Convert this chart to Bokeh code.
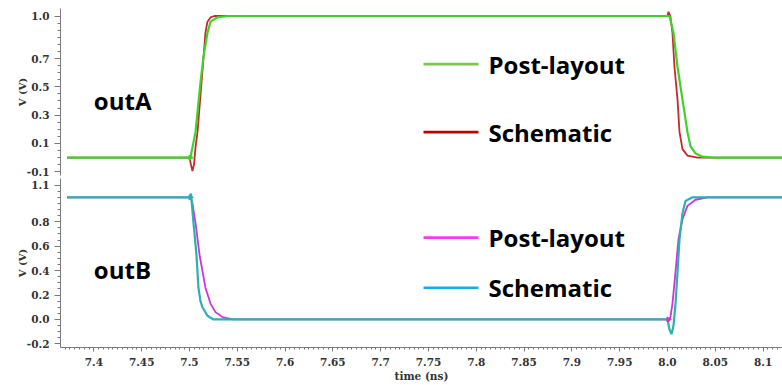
from bokeh.plotting import figure
from bokeh.layouts import column
from bokeh.models import FixedTicker, Range1d
from bokeh.core.properties import value
from bokeh.embed import file_html
from bokeh.resources import INLINE

# ---- waveform samples (time in ns, voltage in V) ----
# outA, post-layout
a_post_t = [7.372, 7.500, 7.501, 7.5063, 7.5115, 7.5146, 7.5188, 7.522, 7.529, 7.540,
            8.000, 8.0021, 8.0063, 8.0105, 8.0157, 8.0209, 8.0241, 8.0293, 8.0366, 8.047, 8.120]
a_post_v = [0.0, 0.0, 0.0, 0.18, 0.53, 0.71, 0.88, 0.96, 0.99, 1.0,
            1.0, 1.0, 0.88, 0.64, 0.41, 0.18, 0.08, 0.03, 0.007, 0.0, 0.0]

# outA, schematic
a_sch_t = [7.372, 7.500, 7.5016, 7.5031, 7.5047, 7.5063, 7.5084, 7.5126, 7.5167, 7.5188, 7.522, 7.526,
           8.000, 8.001, 8.003, 8.0052, 8.0073, 8.0105, 8.0126, 8.0157, 8.0209, 8.0314, 8.120]
a_sch_v = [0.0, 0.0, -0.05, -0.095, -0.05, 0.07, 0.18, 0.53, 0.88, 0.96, 0.99, 1.0,
           1.0, 1.03, 1.0, 0.88, 0.64, 0.41, 0.18, 0.06, 0.014, 0.0, 0.0]

# outB, post-layout
b_post_t = [7.372, 7.501, 7.5031, 7.5063, 7.5105, 7.5167, 7.522, 7.5272, 7.5345, 7.545,
            8.000, 8.001, 8.0031, 8.0052, 8.0084, 8.0115, 8.0157, 8.0209, 8.0293, 8.0418, 8.120]
b_post_v = [1.0, 1.0, 0.95, 0.79, 0.53, 0.26, 0.13, 0.06, 0.02, 0.0,
            0.0, -0.02, 0.02, 0.13, 0.39, 0.66, 0.82, 0.93, 0.98, 1.0, 1.0]

# outB, schematic
b_sch_t = [7.372, 7.500, 7.5016, 7.5042, 7.5073, 7.5094, 7.5115, 7.5136, 7.5188, 7.5251,
           8.000, 8.002, 8.0042, 8.0063, 8.0084, 8.0105, 8.0126, 8.0157, 8.0188, 8.0262, 8.120]
b_sch_v = [1.0, 1.0, 1.03, 0.79, 0.53, 0.26, 0.15, 0.10, 0.03, 0.0,
           0.0, -0.08, -0.12, -0.05, 0.13, 0.39, 0.66, 0.87, 0.97, 1.0, 1.0]

# ---- axis ticks ----
x_ticks = [7.4, 7.45, 7.5, 7.55, 7.6, 7.65, 7.7, 7.75, 7.8, 7.85, 7.9, 7.95, 8.0, 8.05, 8.1]
x_tick_labels = ["7.4", "7.45", "7.5", "7.55", "7.6", "7.65", "7.7", "7.75", "7.8",
                 "7.85", "7.9", "7.95", "8.0", "8.05", "8.1"]
a_ticks = [-0.1, 0.1, 0.3, 0.5, 0.7, 1.0]
a_tick_labels = ["-0.1", "0.1", "0.3", "0.5", "0.7", "1.0"]
b_ticks = [-0.2, 0.0, 0.2, 0.4, 0.6, 0.8, 1.1]
b_tick_labels = ["-0.2", "0.0", "0.2", "0.4", "0.6", "0.8", "1.1"]

# ---- legend entries per panel ----
a_names = ["Post-layout", "Schematic"]
b_names = ["Post-layout", "Schematic"]

COL_A_POST, COL_A_SCH = "#40d22c", "#c62a2a"
COL_B_POST, COL_B_SCH = "#cf35d6", "#2bb0b3"
KEY_A = ["#7dc74a", "#c00000"]
KEY_B = ["#f23cf0", "#12aee8"]

AXIS_GREY = "#7a7a7a"
TICK_FONT = "DejaVu Serif"
LABEL_FONT = "Open Sans"

X0, X1 = 7.3651, 8.1203


def style_y(p, ticks, labels, lo, hi, step):
    ax = p.yaxis[0]
    minor = []
    v = lo
    while v <= hi + 1e-9:
        minor.append(round(v, 4))
        v += step
    ax.ticker = FixedTicker(ticks=ticks, minor_ticks=minor)
    ax.major_label_overrides = {t: l for t, l in zip(ticks, labels)}
    ax.axis_label = "V (V)"
    ax.axis_label_text_font = TICK_FONT
    ax.axis_label_text_font_style = "bold"
    ax.axis_label_text_font_size = "10px"
    ax.axis_label_text_color = "#333333"
    ax.axis_label_standoff = -4
    ax.major_label_text_font = TICK_FONT
    ax.major_label_text_font_style = "bold"
    ax.major_label_text_font_size = "10.5px"
    ax.major_label_text_color = "#333333"
    ax.major_label_standoff = 5
    ax.axis_line_color = AXIS_GREY
    ax.major_tick_line_color = AXIS_GREY
    ax.minor_tick_line_color = AXIS_GREY
    ax.major_tick_out = 6
    ax.major_tick_in = 0
    ax.minor_tick_out = 3
    ax.minor_tick_in = 0


def new_fig(height, y0, y1, top, bottom):
    p = figure(width=782, height=height, x_range=Range1d(X0, X1), y_range=Range1d(y0, y1),
               output_backend="svg", toolbar_location=None,
               min_border_left=60, min_border_right=0,
               min_border_top=top, min_border_bottom=bottom)
    p.xgrid.visible = False
    p.ygrid.visible = False
    p.outline_line_color = None
    p.background_fill_color = "white"
    p.border_fill_color = "white"
    return p


def legend_keys(p, names, colors, ys):
    for name, c, y in zip(names, colors, ys):
        p.line([7.7448, 7.8023], [y, y], line_color=c, line_width=2.6)
        p.text([7.8128], [y], text=[name], text_font=value(LABEL_FONT), text_font_style="bold",
               text_font_size="24px", text_baseline="middle", text_align="left",
               text_color="black")


# ---- outA panel ----
pa = new_fig(178, -0.126, 1.053, 8, 3)
pa.xaxis.visible = False
pa.line(a_sch_t, a_sch_v, line_color=COL_A_SCH, line_width=1.8)
pa.line(a_post_t, a_post_v, line_color=COL_A_POST, line_width=2.2)
pa.scatter([7.501], [0.0], marker="triangle", angle=-1.5708, size=5,
           fill_color=COL_A_POST, line_color=COL_A_POST)
style_y(pa, a_ticks, a_tick_labels, -0.1, 1.0, 0.05)
pa.text([7.4], [0.40], text=["outA"], text_font=value(LABEL_FONT), text_font_style="bold",
        text_font_size="24px", text_baseline="middle", text_align="left", text_color="black")
legend_keys(pa, a_names, KEY_A, [0.66, 0.18])

# ---- outB panel ----
pb = new_fig(207, -0.2295, 1.154, 0, 38)
pb.line(b_post_t, b_post_v, line_color=COL_B_POST, line_width=1.8)
pb.line(b_sch_t, b_sch_v, line_color=COL_B_SCH, line_width=2.2)
pb.scatter([7.501, 8.001], [1.0, 0.0], marker="triangle", angle=-1.5708, size=5,
           fill_color=[COL_B_SCH, COL_B_POST], line_color=[COL_B_SCH, COL_B_POST])
style_y(pb, b_ticks, b_tick_labels, -0.2, 1.1, 0.05)
pb.text([7.4], [0.41], text=["outB"], text_font=value(LABEL_FONT), text_font_style="bold",
        text_font_size="24px", text_baseline="middle", text_align="left", text_color="black")
legend_keys(pb, b_names, KEY_B, [0.67, 0.26])

xa = pb.xaxis[0]
xminor = [round(7.365 + 0.005 * i, 4) for i in range(152)]
xa.ticker = FixedTicker(ticks=x_ticks, minor_ticks=xminor)
xa.major_label_overrides = {t: l for t, l in zip(x_ticks, x_tick_labels)}
xa.axis_label = "time (ns)"
xa.axis_label_text_font = TICK_FONT
xa.axis_label_text_font_style = "bold"
xa.axis_label_text_font_size = "10.5px"
xa.axis_label_text_color = "#333333"
xa.axis_label_standoff = 1
xa.major_label_text_font = TICK_FONT
xa.major_label_text_font_style = "bold"
xa.major_label_text_font_size = "10.5px"
xa.major_label_text_color = "#333333"
xa.major_label_standoff = 6
xa.axis_line_color = AXIS_GREY
xa.major_tick_line_color = AXIS_GREY
xa.minor_tick_line_color = AXIS_GREY
xa.major_tick_out = 4
xa.major_tick_in = 0
xa.minor_tick_out = 2
xa.minor_tick_in = 0

layout = column(pa, pb, spacing=0)
open("out.html", "w").write(file_html(layout, INLINE))
